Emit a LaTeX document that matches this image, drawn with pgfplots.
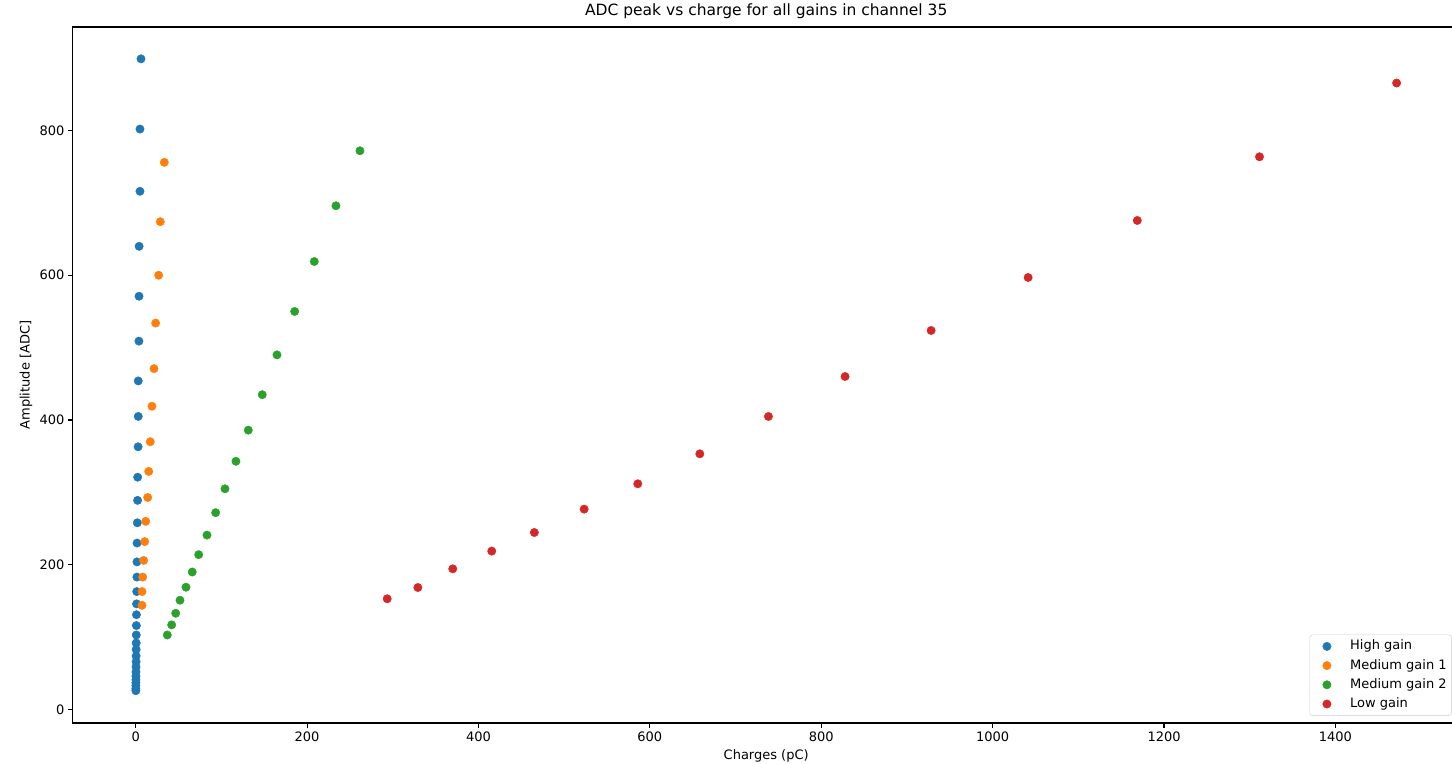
\documentclass[border=0pt]{standalone}
\usepackage{fontspec}
\setmainfont{DejaVu Sans}
\usepackage{pgfplots}
\pgfplotsset{compat=1.18}
\definecolor{c0}{HTML}{1F77B4}
\definecolor{c1}{HTML}{FF7F0E}
\definecolor{c2}{HTML}{2CA02C}
\definecolor{c3}{HTML}{D62728}
\begin{document}
\begin{tikzpicture}
\useasboundingbox (-72.7bp,-41bp) rectangle (1379.3bp,723bp);
\clip (-72.7bp,-41bp) rectangle (1379.3bp,723bp);
\begin{axis}[
  at={(0,0)}, anchor=south west,
  scale only axis, width=1387bp, height=696bp,
  xmin=-73.5, xmax=1545, ymin=-18.6, ymax=943,
  xtick={0,200,...,1400}, ytick={0,200,...,800},
  tick pos=left, tick align=outside,
  major tick length=4.86bp,
  every tick/.style={black, line width=1.1bp},
  axis line style={line width=1.1bp},
  /pgf/number format/assume math mode=true,
  /pgf/number format/1000 sep={},
  ticklabel style={font=\fontsize{13bp}{15bp}\selectfont},
  title={ADC peak vs charge for all gains in channel 35},
  title style={at={(axis description cs:0.5,1.00862)}, anchor=base, font=\fontsize{15.5bp}{18bp}\selectfont},
  xlabel={Charges (pC)},
  xlabel style={at={(axis description cs:0.5,-0.05172)}, anchor=base, font=\fontsize{13bp}{15bp}\selectfont},
  ylabel={Amplitude [ADC]},
  ylabel style={at={(axis description cs:-0.03367,0.5)}, anchor=center, font=\fontsize{13bp}{15bp}\selectfont},
  legend cell align=left,
  legend image code/.code={\path (0bp,0bp) (24bp,0bp); \draw[mark repeat=2,mark phase=2] plot coordinates {(0bp,0bp)(12bp,0bp)(24bp,0bp)};},
  legend style={at={(axis description cs:1,0)}, anchor=south east, xshift=-7.8bp, yshift=7.2bp,
    draw=black!20, rounded corners=2.8bp, fill=white,
    font=\fontsize{13bp}{15bp}\selectfont,
    inner xsep=5bp, inner ysep=5.4bp, row sep=6.8bp,
    nodes={inner sep=0bp, text height=9.6bp, text depth=2.8bp},
    /tikz/every odd column/.style={column sep=11bp}},
]
\addplot[only marks, mark=*, mark size=4.2bp, mark options={draw=c0, fill=c0}] coordinates {
(6.2,899) (5.0,802) (5.0,716) (4.0,640) (3.9,571) (3.8,509) (3.0,454) (3.0,405)
(2.8,363) (2.3,321) (2.2,289) (1.9,258) (1.6,230) (1.5,204) (1.4,183) (1.2,163)
(1.0,146) (0.9,131) (0.8,116) (0.7,103) (0.6,92) (0.55,83) (0.5,74) (0.45,66)
(0.4,59) (0.35,52) (0.3,46) (0.3,41) (0.25,37) (0.2,33) (0.2,29) (0.2,26)
};
\addlegendentry{High gain}
\addplot[only marks, mark=*, mark size=4.2bp, mark options={draw=c1, fill=c1}] coordinates {
(33.4,756) (28.7,674) (26.8,600) (23.3,534) (21.4,471) (19.0,419) (17.0,370)
(15.2,329) (14.0,293) (11.7,260) (10.5,232) (9.3,206) (8.2,183) (7.4,163) (7.4,144)
};
\addlegendentry{Medium gain 1}
\addplot[only marks, mark=*, mark size=4.2bp, mark options={draw=c2, fill=c2}] coordinates {
(261.7,772) (233.7,696) (208.4,619) (185.5,550) (164.9,490) (147.7,435) (131.4,386)
(117.0,343) (104.2,305) (93.3,272) (83.2,241) (73.5,214) (66.0,190) (58.7,169)
(51.7,151) (46.7,133) (42.0,117) (36.9,103)
};
\addlegendentry{Medium gain 2}
\addplot[only marks, mark=*, mark size=4.2bp, mark options={draw=c3, fill=c3}] coordinates {
(293.5,153) (329.3,168.6) (370.0,194.4) (415.5,218.9) (465.2,244.6) (523.3,276.9)
(585.9,311.9) (658.3,353.3) (738.4,404.9) (827.8,460.1) (928.2,523.7) (1041.4,596.9)
(1168.8,675.7) (1311.4,763.7) (1471.4,865.6)
};
\addlegendentry{Low gain}
\end{axis}
\end{tikzpicture}
\end{document}
